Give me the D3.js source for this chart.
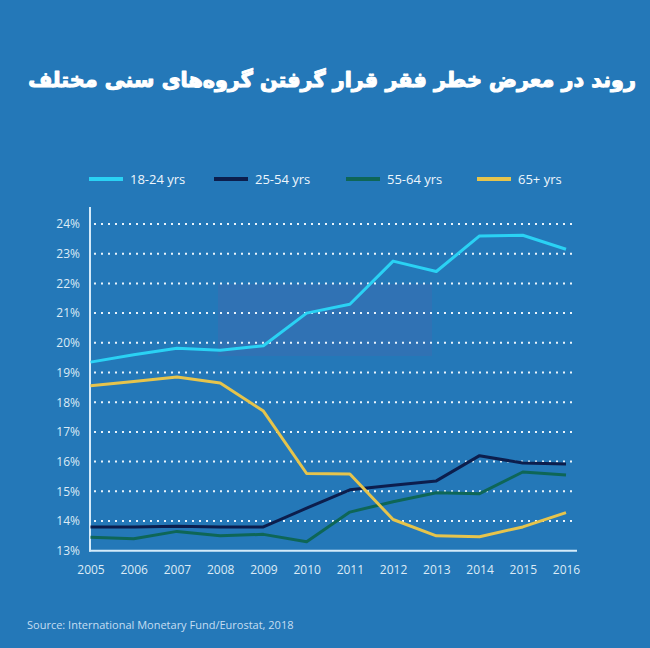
<!DOCTYPE html>
<html><head><meta charset="utf-8">
<script src="https://cdn.jsdelivr.net/npm/d3@7"></script>
<style>
html,body{margin:0;padding:0;background:#2478b8;}
svg{display:block;}
</style></head>
<body>
<script>
const years = [2005,2006,2007,2008,2009,2010,2011,2012,2013,2014,2015,2016];
const seriesNames = ["18-24 yrs","25-54 yrs","55-64 yrs","65+ yrs"];
const s1824 = [19.35,19.6,19.82,19.75,19.9,21.0,21.3,22.75,22.4,23.6,23.62,23.15];
const s2554 = [13.8,13.8,13.82,13.8,13.8,14.43,15.05,15.2,15.35,16.2,15.95,15.92];
const s5564 = [13.45,13.4,13.65,13.5,13.55,13.3,14.3,14.65,14.95,14.92,15.65,15.55];
const s65 = [18.55,18.7,18.85,18.65,17.7,15.6,15.58,14.05,13.5,13.47,13.8,14.28];
const yTicks = [13,14,15,16,17,18,19,20,21,22,23,24];
const colors = ["#2ad2f4","#0c1e4d","#0e6657","#e6c44c"];
const title = "روند در معرض خطر فقر قرار گرفتن گروه‌های سنی مختلف";
const source = "Source: International Monetary Fund/Eurostat, 2018";

const W=650,H=648;
const svg=d3.select("body").append("svg").attr("width",W).attr("height",H);
svg.append("rect").attr("width",W).attr("height",H).attr("fill","#2478b8");

const t=svg.append("text").attr("x",332).attr("y",87).attr("text-anchor","middle")
  .attr("font-family","DejaVu Sans").attr("font-weight","bold").attr("font-size",26)
  .attr("fill","#ffffff").attr("stroke","#ffffff").attr("stroke-width",1.1)
  .attr("stroke-linejoin","round").text(title);
const bb=t.node().getBBox();
if(bb.width>0){ const s=Math.min(1.2,608/bb.width); t.attr("font-size",26*s); }

const x=d3.scaleLinear().domain([2005,2016]).range([90.5,566]);
const y=d3.scaleLinear().domain([13,24]).range([550.7,224]);

// watermark box
svg.append("rect").attr("x",218).attr("y",284).attr("width",214).attr("height",72)
  .attr("fill","#5a5fa8").attr("opacity",0.22);

// gridlines
const g=svg.append("g");
g.selectAll("line.grid").data(yTicks.filter(d=>d>13)).join("line")
  .attr("x1",94).attr("x2",576).attr("y1",d=>y(d)).attr("y2",d=>y(d))
  .attr("stroke","#e8f3fb").attr("stroke-width",2).attr("stroke-dasharray","2,5");

const fnt="'Open Sans', Lato, sans-serif";
const yAxis=d3.axisLeft(y).tickValues(yTicks).tickFormat(d=>d+"%").tickSize(0).tickPadding(0);
const ya=svg.append("g").attr("transform","translate(80,0)").call(yAxis);
ya.select(".domain").remove();
ya.selectAll("text").attr("font-family",fnt).attr("font-size",12)
  .attr("fill","#dcebf6");

const xAxis=d3.axisBottom(x).tickValues(years).tickFormat(d3.format("d")).tickSize(0).tickPadding(0);
const xa=svg.append("g").attr("transform","translate(0,565)").call(xAxis);
xa.select(".domain").remove();
xa.selectAll("text").attr("font-family",fnt).attr("font-size",12)
  .attr("fill","#dcebf6");

svg.append("line").attr("x1",90).attr("x2",90).attr("y1",207).attr("y2",551.5)
  .attr("stroke","#d4ebfa").attr("stroke-width",2);
svg.append("line").attr("x1",89).attr("x2",577).attr("y1",550.7).attr("y2",550.7)
  .attr("stroke","#d4ebfa").attr("stroke-width",2);

const data=[s1824,s2554,s5564,s65];
const line=d3.line().x((d,i)=>x(years[i])).y(d=>y(d));
[2,1,3,0].forEach(k=>{
  svg.append("path").datum(data[k]).attr("d",line).attr("fill","none")
    .attr("stroke",colors[k]).attr("stroke-width",3).attr("stroke-linejoin","round");
});

const legX=[89,214,346,477];
const lg=svg.append("g");
seriesNames.forEach((n,i)=>{
  lg.append("line").attr("x1",legX[i]).attr("x2",legX[i]+34).attr("y1",179).attr("y2",179)
    .attr("stroke",colors[i]).attr("stroke-width",4);
  lg.append("text").attr("x",legX[i]+41).attr("y",184).attr("font-family",fnt)
    .attr("font-size",13).attr("fill","#eef6fc").text(n);
});

svg.append("text").attr("x",27).attr("y",629).attr("font-family",fnt)
  .attr("font-size",11).attr("fill","#c4def2").text(source);
</script>
</body></html>
